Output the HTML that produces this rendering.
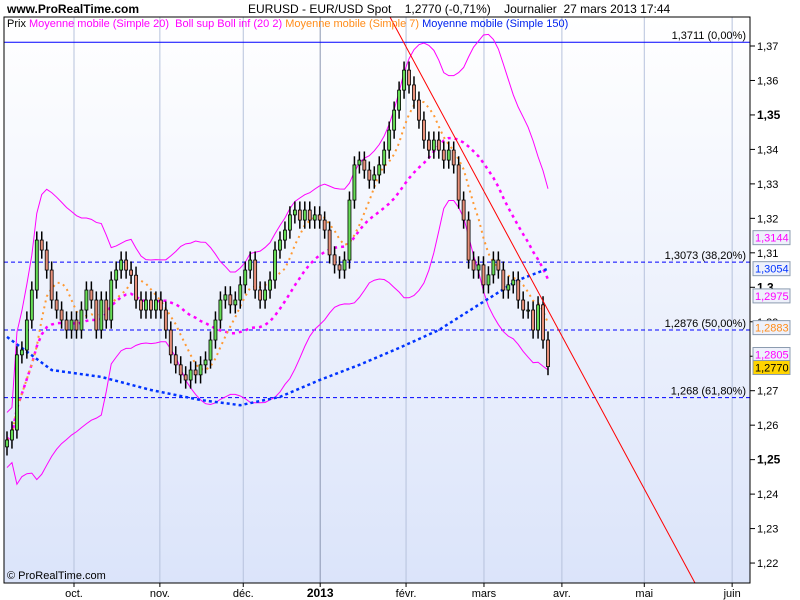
<!DOCTYPE html>
<html><head><meta charset="utf-8"><style>
html,body{margin:0;padding:0;background:#fff;width:800px;height:600px;overflow:hidden}
svg{display:block;font-family:"Liberation Sans",sans-serif}
</style></head><body>
<svg id="chart" width="800" height="600" viewBox="0 0 800 600">
<defs><linearGradient id="bg" x1="0" y1="0" x2="0" y2="1"><stop offset="0" stop-color="#ffffff"/><stop offset="1" stop-color="#dbe4fa"/></linearGradient></defs>
<text x="7" y="13" font-size="12" font-weight="bold">www.ProRealTime.com</text>
<text x="248" y="13" font-size="12" xml:space="preserve">EURUSD - EUR/USD Spot    1,2770 (-0,71%)    Journalier  27 mars 2013 17:44</text>
<rect x="4" y="17" width="746" height="566" fill="url(#bg)"/>
<g id="grid"></g>
<g id="levels"></g>
<g id="ind"></g>
<g id="candles"></g>
<g id="trend"></g>
<rect x="4" y="17" width="746" height="566" fill="none" stroke="#000"/>
<g font-size="11">
<text x="7" y="27" xml:space="preserve"><tspan fill="#000">Prix </tspan><tspan fill="#ff00ff">Moyenne mobile (Simple 20)  Boll sup Boll inf (20 2) </tspan><tspan fill="#ff8c1a">Moyenne mobile (Simple 7) </tspan><tspan fill="#0022ee">Moyenne mobile (Simple 150)</tspan></text>
</g>
<text x="7" y="579" font-size="11">© ProRealTime.com</text>
<g id="yaxis" font-size="11"></g>
<g id="xaxis" font-size="11"></g>
<g id="tags" font-size="11"></g>
</svg>
<script>
const closes=[1.2557,1.2586,1.2804,1.2818,1.2905,1.2992,1.3137,1.3108,1.3050,1.2963,1.2934,1.2905,1.2876,1.2905,1.2876,1.2934,1.2992,1.2963,1.2876,1.2963,1.2905,1.3021,1.3050,1.3079,1.3050,1.3035,1.2963,1.2934,1.2963,1.2934,1.2963,1.2934,1.2876,1.2804,1.2775,1.2746,1.2731,1.2760,1.2746,1.2775,1.2789,1.2847,1.2905,1.2963,1.2978,1.2949,1.2963,1.3007,1.3050,1.3079,1.2992,1.2963,1.2992,1.3021,1.3108,1.3137,1.3166,1.3210,1.3224,1.3195,1.3224,1.3195,1.3210,1.3195,1.3166,1.3094,1.3065,1.3050,1.3079,1.3253,1.3355,1.3369,1.3340,1.3311,1.3326,1.3355,1.3398,1.3456,1.3514,1.3572,1.3630,1.3587,1.3543,1.3485,1.3427,1.3398,1.3427,1.3398,1.3369,1.3398,1.3355,1.3253,1.3195,1.3079,1.3050,1.3065,1.3007,1.3036,1.3079,1.3050,1.2992,1.3007,1.3021,1.2963,1.2934,1.2934,1.2876,1.2949,1.2847,1.2770];
const ma150Idx=[0,9,19,29,39,47,55,63,71,79,87,95,103,109];
const ma150Val=[1.2856,1.2760,1.2740,1.2702,1.2673,1.2658,1.2682,1.2731,1.2775,1.2824,1.2876,1.2949,1.3021,1.3054];
const levelVals=[1.3711,1.3073,1.2876,1.268];
const levelLabels=["1,3711 (0,00%)","1,3073 (38,20%)","1,2876 (50,00%)","1,268 (61,80%)"];
const yTicks=[1.37,1.36,1.35,1.34,1.33,1.32,1.31,1.30,1.29,1.28,1.27,1.26,1.25,1.24,1.23,1.22];
const yTickLabels=["1,37","1,36","1,35","1,34","1,33","1,32","1,31","1,3","1,29","1,28","1,27","1,26","1,25","1,24","1,23","1,22"];
const months=["oct.","nov.","déc.","2013","févr.","mars","avr.","mai","juin"];
const monthIdx=[13.5,30.8,47.6,63.1,80.4,96.1,111.8,128.4,146.1];
const tagVals=[1.3144,1.3054,1.2975,1.2883,1.2805,1.2770];
const tagLabels=["1,3144","1,3054","1,2975","1,2883","1,2805","1,2770"];
const NS="http://www.w3.org/2000/svg";
const X0=7,X1=548;
const n=closes.length;
function xs(i){return X0+i*(X1-X0)/(n-1);}
function ys(p){return 46+(1.37-p)*3447;}
function mk(tag,attrs,parent){const e=document.createElementNS(NS,tag);for(const k in attrs)e.setAttribute(k,attrs[k]);parent.appendChild(e);return e;}
const G=id=>document.getElementById(id);
months.forEach((m,k)=>{const x=xs(monthIdx[k]);
 const l=mk('line',{x1:x,x2:x,y1:17,y2:583,stroke:m==="2013"?"#8a96b0":"#b6c2dc"},G('grid'));
 
 
 mk('line',{x1:x,x2:x,y1:583,y2:587,stroke:"#000"},G('xaxis'));
 const t=mk('text',{x:x,y:597,'text-anchor':'middle','font-weight':m==="2013"?"bold":"normal",'font-size':m==="2013"?12:11},G('xaxis'));
 t.textContent=m;
 
 
});
yTicks.forEach((v,k)=>{const y=ys(v);
 mk('line',{x1:750,x2:755,y1:y,y2:y,stroke:"#000"},G('yaxis'));
 const bold=(k===2||k===7||k===12);
 const t=mk('text',{x:757,y:y+4,'font-weight':bold?"bold":"normal",'font-size':bold?12:11},G('yaxis'));
 t.textContent=yTickLabels[k];
 
 
});
levelVals.forEach((v,k)=>{const y=ys(v);
 const l=mk('line',{x1:4,x2:750,y1:y,y2:y,stroke:"#0000ff",'stroke-width':1,'stroke-dasharray':k===0?"":"4,3"},G('levels'));
 
 
 const t=mk('text',{x:746,y:y-3,'text-anchor':'end','font-size':11},G('levels'));
 t.textContent=levelLabels[k];
 
 
});
function sma(w,i){let s=0,c=0;for(let j=Math.max(0,i-w+1);j<=i;j++){s+=closes[j];c++;}return s/c;}
function sd(w,i){const m=sma(w,i);let s=0,c=0;for(let j=Math.max(0,i-w+1);j<=i;j++){s+=(closes[j]-m)**2;c++;}return Math.sqrt(s/c);}
let up=[],lo=[],m20=[],m7=[];
for(let i=0;i<n;i++){const m=sma(20,i),d=Math.max(sd(20,i),0.004);m20.push(xs(i)+','+ys(m));up.push(xs(i)+','+ys(m+2*d));lo.push(xs(i)+','+ys(m-2*d));m7.push(xs(i)+','+ys(sma(7,i)));}
const bu=mk('polyline',{points:up.join(' '),fill:'none',stroke:'#ff00ff','stroke-width':1},G('ind'));


const bl=mk('polyline',{points:lo.join(' '),fill:'none',stroke:'#ff00ff','stroke-width':1},G('ind'));


const p20=mk('polyline',{points:m20.join(' '),fill:'none',stroke:'#ff00ff','stroke-width':2.5,'stroke-dasharray':'3,4'},G('ind'));


const p150=mk('polyline',{points:ma150Idx.map((ix,k)=>xs(ix)+','+ys(ma150Val[k])).join(' '),fill:'none',stroke:'#0033ff','stroke-width':2.5,'stroke-dasharray':'3,3'},G('ind'));


const p7=mk('polyline',{points:m7.join(' '),fill:'none',stroke:'#ff9933','stroke-width':2,'stroke-dasharray':'2,4'},G('ind'));


for(let i=0;i<n;i++){const o=i?closes[i-1]:closes[0]-0.002,c=closes[i];
 const x=xs(i),hi=Math.max(o,c)+0.0025,lw=Math.min(o,c)-0.0025;
 mk('line',{x1:x,x2:x,y1:ys(hi),y2:ys(lw),stroke:'#000','stroke-width':1.5},G('candles'));
 const r=mk('rect',{x:x-1.5,y:ys(Math.max(o,c)),width:3,height:Math.max(1,Math.abs(ys(o)-ys(c))),fill:c>=o?'#66dd55':'#e8907a',stroke:'#000','stroke-width':0.8},G('candles'));
 
 
}
const tl=mk('line',{x1:390,y1:17,x2:695,y2:583,stroke:'#ff0000','stroke-width':1},G('trend'));


const tagColors=['#ff00ff','#0033ff','#ff00ff','#ff8c1a','#ff00ff','#000'];
let lastY=-99;
tagVals.forEach((v,k)=>{let y=ys(v);if(y-lastY<13)y=lastY+13;lastY=y;
 const last=k===tagVals.length-1;
 const r=mk('rect',{x:753,y:y-7,width:37,height:14,fill:last?'#ffd400':'#eef1fb',stroke:'#8c9cb0'},G('tags'));
 
 
 const t=mk('text',{x:755,y:y+4,fill:tagColors[k]},G('tags'));
 t.textContent=tagLabels[k];
 
 
});
</script>
</body></html>
